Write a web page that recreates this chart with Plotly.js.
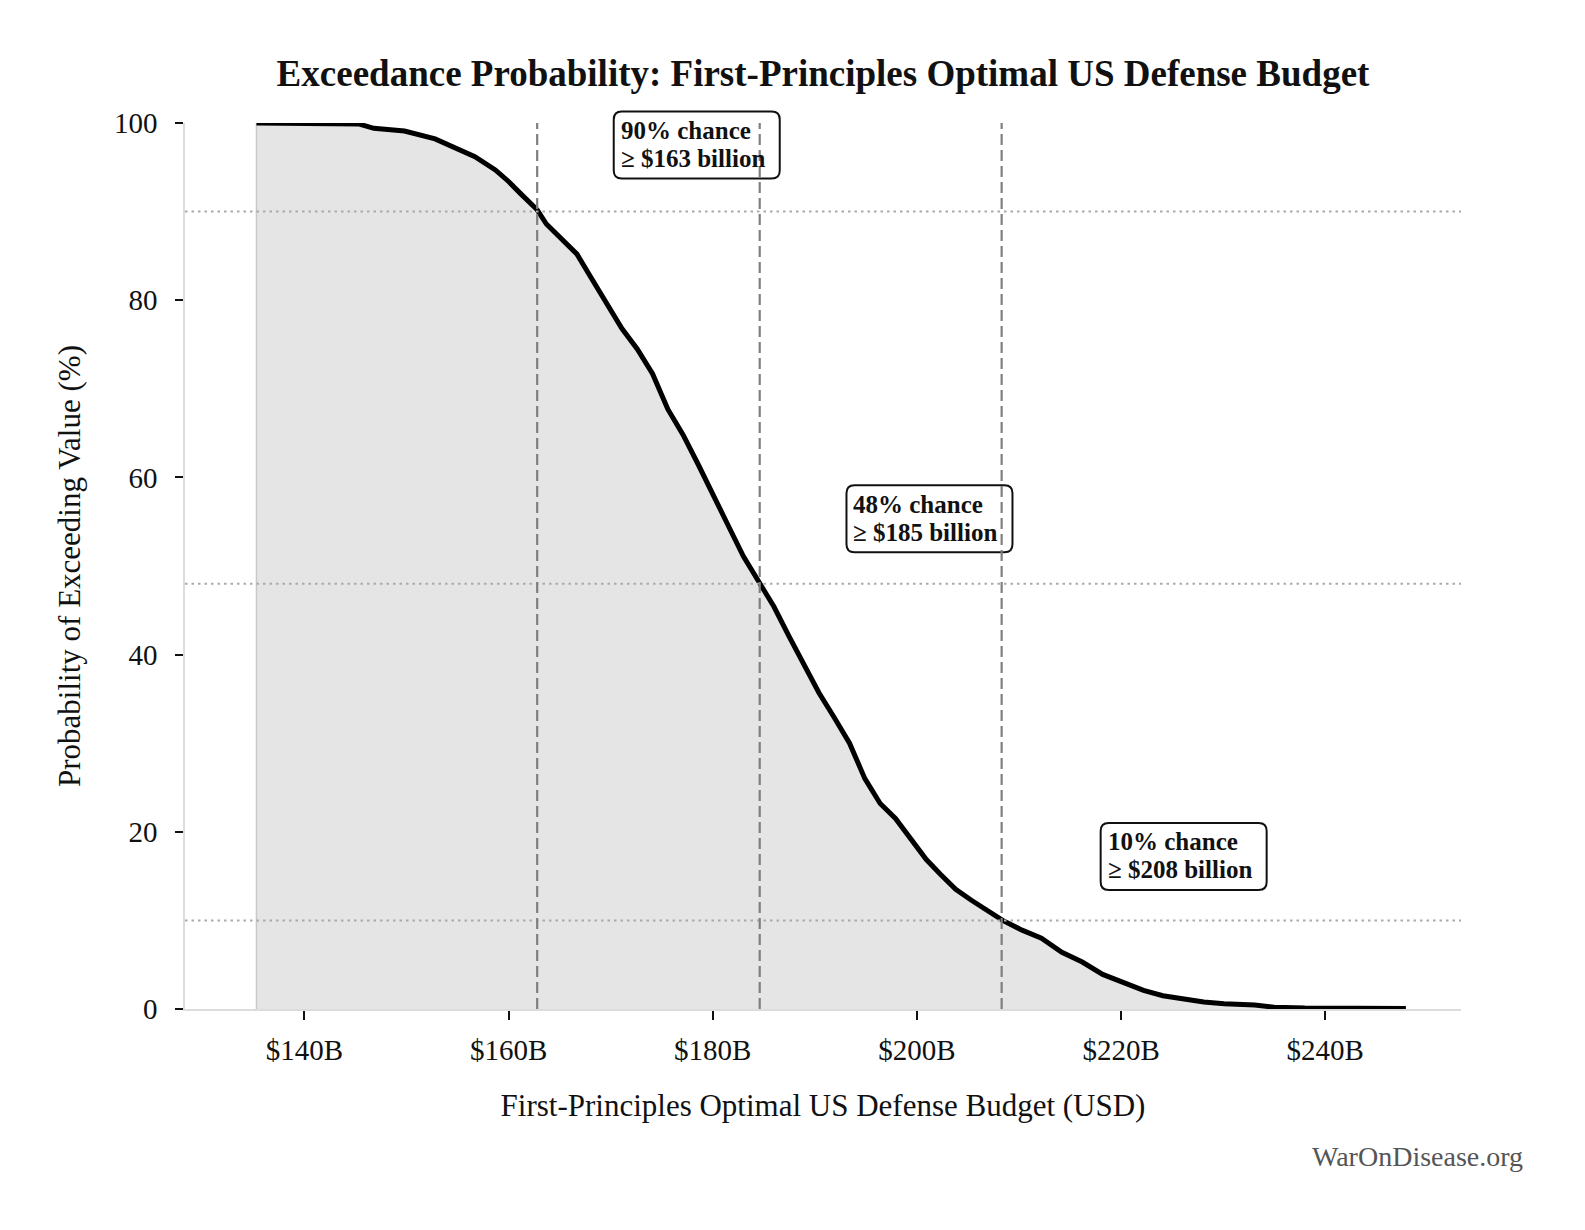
<!DOCTYPE html>
<html>
<head>
<meta charset="utf-8">
<script src="https://cdn.plot.ly/plotly-3.0.1.min.js"></script>
<style>
  html, body { margin: 0; padding: 0; background: #fff; }
  #chart { width: 1585px; height: 1230px; }
</style>
</head>
<body>
<div id="chart"></div>
<script>
// budget in $ billions, probability of exceeding in %
const budget = [135.3, 140, 145.3, 146.8, 149.8, 152.8, 155.3, 156.7, 158.7, 160.0, 161.2, 162.8,
  163.7, 165.2, 166.7, 168.1, 169.6, 171.1, 172.6, 174.1, 175.6, 177.1, 178.6, 180.0, 181.5,
  183.0, 184.7, 186.0, 187.5, 189.0, 190.4, 191.9, 193.4, 194.9, 196.4, 197.9, 199.4, 200.9,
  202.3, 203.8, 205.3, 206.8, 208.4, 210.3, 212.2, 214.2, 216.2, 218.2, 220.2, 222.2, 224.1,
  226.1, 228.1, 230.1, 233.1, 235.0, 238.0, 247.9];
const exceedPct = [100, 100, 99.9, 99.4, 99.1, 98.2, 97.0, 96.2, 94.7, 93.4, 92.0, 90.2,
  88.6, 86.8, 85.2, 82.5, 79.7, 76.8, 74.5, 71.7, 67.7, 64.8, 61.4, 58.0, 54.6,
  51.1, 47.9, 45.4, 42.0, 38.6, 35.7, 32.9, 30.0, 26.0, 23.2, 21.5, 19.2, 16.9,
  15.2, 13.5, 12.3, 11.2, 10.0, 8.9, 8.0, 6.4, 5.3, 3.9, 3.0, 2.1, 1.5,
  1.1, 0.8, 0.6, 0.45, 0.2, 0.1, 0.05];

// percentile markers
const markerPct = [90, 48, 10];
const markerBudget = [162.8, 184.6, 208.3];
const markerLabel = ['163', '185', '208'];
const labelPos = [[170.3, 101.3], [193.1, 59.1], [218.0, 21.0]]; // top-left of each label box

const serif = 'Liberation Serif, Times New Roman, serif';

const xRange = [128.3, 253.3];
const yRange = [0, 100];
const margin = { l: 185, r: 124, t: 123, b: 221 };
const plotW = 1585 - margin.l - margin.r;
const plotH = 1230 - margin.t - margin.b;

const fillTrace = {
  x: [budget[0]].concat(budget, [budget[budget.length - 1]]),
  y: [0].concat(exceedPct, [0]),
  mode: 'lines',
  fill: 'toself',
  fillcolor: '#e5e5e5',
  line: { color: '#c8c8c8', width: 1.5 },
  hoverinfo: 'skip',
  showlegend: false
};

const curveTrace = {
  x: budget,
  y: exceedPct,
  mode: 'lines',
  line: { color: '#000', width: 5 },
  showlegend: false
};

// rounded label boxes, in paper fractions (single subplot fills the paper domain)
function roundedBox(px, py, wPx, hPx, rPx) {
  const x0 = (px - xRange[0]) / (xRange[1] - xRange[0]);
  const y1 = (py - yRange[0]) / (yRange[1] - yRange[0]);
  const x1 = x0 + wPx / plotW;
  const y0 = y1 - hPx / plotH;
  const rx = rPx / plotW, ry = rPx / plotH;
  return 'M' + (x0 + rx) + ',' + y1 + ' L' + (x1 - rx) + ',' + y1 +
    ' Q' + x1 + ',' + y1 + ' ' + x1 + ',' + (y1 - ry) +
    ' L' + x1 + ',' + (y0 + ry) + ' Q' + x1 + ',' + y0 + ' ' + (x1 - rx) + ',' + y0 +
    ' L' + (x0 + rx) + ',' + y0 + ' Q' + x0 + ',' + y0 + ' ' + x0 + ',' + (y0 + ry) +
    ' L' + x0 + ',' + (y1 - ry) + ' Q' + x0 + ',' + y1 + ' ' + (x0 + rx) + ',' + y1 + ' Z';
}

const shapes = [];
labelPos.forEach(function (pos) {
  shapes.push({
    type: 'path', xref: 'paper', yref: 'paper',
    path: roundedBox(pos[0], pos[1], 166, 67, 8),
    fillcolor: 'rgba(255,255,255,0.85)',
    line: { color: '#111', width: 2 }
  });
});
markerPct.forEach(function (p) {
  shapes.push({
    type: 'line', xref: 'paper', yref: 'y', x0: 0, x1: 1, y0: p, y1: p,
    line: { color: '#aaaaaa', width: 2, dash: '2.5px,4px' }
  });
});
markerBudget.forEach(function (b) {
  shapes.push({
    type: 'line', xref: 'x', yref: 'paper', x0: b, x1: b, y0: 0, y1: 1,
    line: { color: '#7f7f7f', width: 2.2, dash: '11px,5px' }
  });
});

const annotations = [];
markerPct.forEach(function (p, i) {
  const xf = (labelPos[i][0] - xRange[0]) / (xRange[1] - xRange[0]) + 5 / plotW;
  const yf = (labelPos[i][1] - yRange[0]) / (yRange[1] - yRange[0]);
  const lines = [p + '% chance', '≥ $' + markerLabel[i] + ' billion'];
  lines.forEach(function (t, k) {
    annotations.push({
      xref: 'paper', yref: 'paper', x: xf, y: yf - (19 + k * 28) / plotH,
      xanchor: 'left', yanchor: 'middle', align: 'left', showarrow: false,
      text: '<b>' + t + '</b>',
      font: { family: serif, size: 25, color: '#111' }
    });
  });
});

annotations.push({
  xref: 'paper', yref: 'paper', x: 1.05, y: -0.167,
  xanchor: 'right', yanchor: 'middle', showarrow: false,
  text: 'WarOnDisease.org',
  font: { family: serif, size: 28, color: '#555' }
});

const layout = {
  width: 1585,
  height: 1230,
  margin: margin,
  paper_bgcolor: '#fff',
  plot_bgcolor: '#fff',
  font: { family: serif, color: '#111' },
  title: {
    text: '<b>Exceedance Probability: First-Principles Optimal US Defense Budget</b>',
    font: { family: serif, size: 37, color: '#111' },
    x: 0.5, xref: 'paper', xanchor: 'center',
    y: 1 - 73 / 1230, yanchor: 'middle'
  },
  xaxis: {
    range: xRange,
    tick0: 0, dtick: 20,
    tickprefix: '$', ticksuffix: 'B',
    showgrid: false, zeroline: false,
    showline: true, linecolor: '#dcdcdc', linewidth: 1.5,
    ticks: 'outside', ticklen: 9, tickwidth: 2, tickcolor: '#111',
    ticklabelstandoff: 5,
    tickfont: { family: serif, size: 29, color: '#111' },
    title: {
      text: 'First-Principles Optimal US Defense Budget (USD)',
      font: { family: serif, size: 31, color: '#111' },
      standoff: 30
    }
  },
  yaxis: {
    range: yRange,
    dtick: 20,
    showgrid: false, zeroline: false,
    showline: true, linecolor: '#dcdcdc', linewidth: 1.5,
    ticks: 'outside', ticklen: 8, tickwidth: 2, tickcolor: '#111',
    ticklabelstandoff: 12,
    tickfont: { family: serif, size: 29, color: '#111' },
    title: {
      text: 'Probability of Exceeding Value (%)',
      font: { family: serif, size: 31, color: '#111' },
      standoff: 24
    }
  },
  shapes: shapes,
  annotations: annotations,
  showlegend: false
};

Plotly.newPlot('chart', [fillTrace, curveTrace], layout, { displayModeBar: false, responsive: false });
</script>
</body>
</html>
